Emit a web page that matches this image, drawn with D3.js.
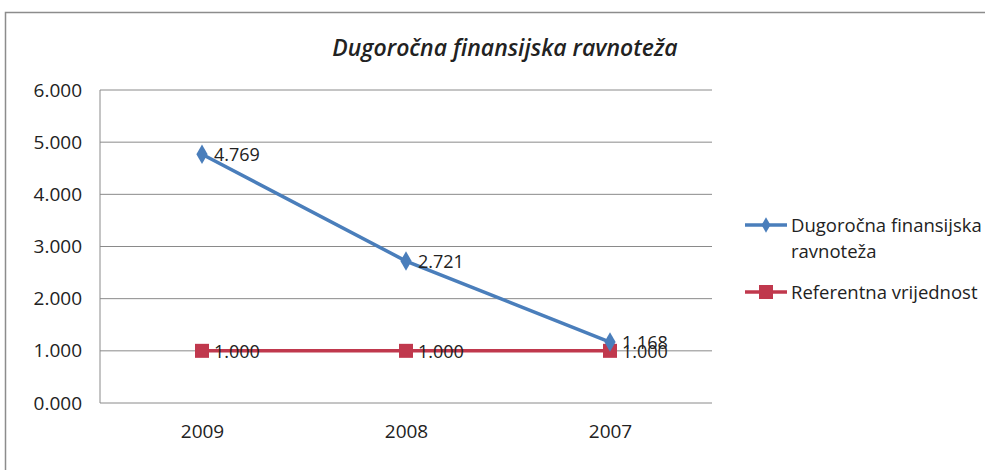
<!DOCTYPE html>
<html>
<head>
<meta charset="utf-8">
<script src="https://cdnjs.cloudflare.com/ajax/libs/d3/7.8.5/d3.min.js"></script>
<style>
  body { margin: 0; background: #fff; }
  text { font-family: "Open Sans", sans-serif; fill: #222; }
</style>
</head>
<body>
<div id="chart"></div>
<script>
// data
var years = ["2009", "2008", "2007"];
var ravnoteza = [4.769, 2.721, 1.168];
var referentna = [1.000, 1.000, 1.000];
var yTicks = [0, 1, 2, 3, 4, 5, 6];

var W = 985, H = 470;
var margin = { top: 90, left: 100, right: 273, bottom: 67 };
var width = W - margin.left - margin.right,
    height = H - margin.top - margin.bottom;

var fmt = d3.format(".3f");

var svg = d3.select("#chart").append("svg")
    .attr("width", W)
    .attr("height", H);

// outer frame
svg.append("rect")
    .attr("x", 5.5).attr("y", 12.5)
    .attr("width", 990).attr("height", 470)
    .attr("fill", "none")
    .attr("stroke", "#8c8c8c")
    .attr("stroke-width", 1.5);

// title
svg.append("text")
    .attr("x", 505).attr("y", 56)
    .attr("text-anchor", "middle")
    .style("font-size", "23px")
    .style("font-style", "italic")
    .style("font-weight", "600")
    .text("Dugoročna finansijska ravnoteža");

var g = svg.append("g")
    .attr("transform", "translate(" + margin.left + "," + margin.top + ")");

var xScale = d3.scalePoint().domain(years).range([0, width]).padding(0.5);
var yScale = d3.scaleLinear().domain([0, 6]).range([height, 0]);

// gridlines
g.selectAll(".grid")
    .data(yTicks)
    .enter().append("line")
    .attr("x1", 0).attr("x2", width)
    .attr("y1", function (d) { return yScale(d); })
    .attr("y2", function (d) { return yScale(d); })
    .attr("stroke", "#8a8a8a")
    .attr("stroke-width", 1);

// left axis line
g.append("line")
    .attr("x1", 0).attr("x2", 0)
    .attr("y1", 0).attr("y2", height)
    .attr("stroke", "#8a8a8a");

// y axis labels
var yAxis = g.append("g")
    .call(d3.axisLeft(yScale).tickValues(yTicks).tickSize(0).tickPadding(18).tickFormat(fmt));
yAxis.select(".domain").remove();
yAxis.selectAll("text").style("font-size", "19px").attr("fill", "#222");

// x axis labels
var xAxis = g.append("g")
    .attr("transform", "translate(0," + height + ")")
    .call(d3.axisBottom(xScale).tickSize(0).tickPadding(22));
xAxis.select(".domain").remove();
xAxis.selectAll("text").style("font-size", "19px").attr("fill", "#222");

var line = d3.line()
    .x(function (d, i) { return xScale(years[i]); })
    .y(function (d) { return yScale(d); });

var blue = "#4a7ebb", red = "#c0384d";

// reference line
g.append("path")
    .datum(referentna)
    .attr("d", line)
    .attr("fill", "none")
    .attr("stroke", red)
    .attr("stroke-width", 3.5);

g.selectAll(".sq")
    .data(referentna)
    .enter().append("rect")
    .attr("x", function (d, i) { return xScale(years[i]) - 7; })
    .attr("y", function (d) { return yScale(d) - 7; })
    .attr("width", 14).attr("height", 14)
    .attr("fill", red);

// main series
g.append("path")
    .datum(ravnoteza)
    .attr("d", line)
    .attr("fill", "none")
    .attr("stroke", blue)
    .attr("stroke-width", 3.5);

var diamond = d3.symbol().type(d3.symbolDiamond).size(110);
g.selectAll(".dia")
    .data(ravnoteza)
    .enter().append("path")
    .attr("d", diamond)
    .attr("transform", function (d, i) {
        return "translate(" + xScale(years[i]) + "," + yScale(d) + ")";
    })
    .attr("fill", blue);

// data labels
g.selectAll(".lblR")
    .data(referentna)
    .enter().append("text")
    .attr("x", function (d, i) { return xScale(years[i]) + 12; })
    .attr("y", function (d) { return yScale(d) + 7; })
    .style("font-size", "18px")
    .text(fmt);

g.selectAll(".lblB")
    .data(ravnoteza)
    .enter().append("text")
    .attr("x", function (d, i) { return xScale(years[i]) + 12; })
    .attr("y", function (d) { return yScale(d) + 7; })
    .style("font-size", "18px")
    .text(fmt);

// legend
var legend = svg.append("g").attr("transform", "translate(745,0)");
var legendRows = [
    { color: blue, y: 225, lines: ["Dugoročna finansijska", "ravnoteža"], shape: "diamond" },
    { color: red, y: 292, lines: ["Referentna vrijednost"], shape: "square" }
];
legendRows.forEach(function (r) {
    legend.append("line")
        .attr("x1", 0).attr("x2", 42)
        .attr("y1", r.y).attr("y2", r.y)
        .attr("stroke", r.color).attr("stroke-width", 3.5);
    if (r.shape === "diamond") {
        legend.append("path")
            .attr("d", d3.symbol().type(d3.symbolDiamond).size(70))
            .attr("transform", "translate(21," + r.y + ")")
            .attr("fill", r.color);
    } else {
        legend.append("rect")
            .attr("x", 14).attr("y", r.y - 7)
            .attr("width", 14).attr("height", 14)
            .attr("fill", r.color);
    }
    r.lines.forEach(function (t, i) {
        legend.append("text")
            .attr("x", 46).attr("y", r.y + 7 + i * 26)
            .style("font-size", "18.5px")
            .text(t);
    });
});
</script>
</body>
</html>
